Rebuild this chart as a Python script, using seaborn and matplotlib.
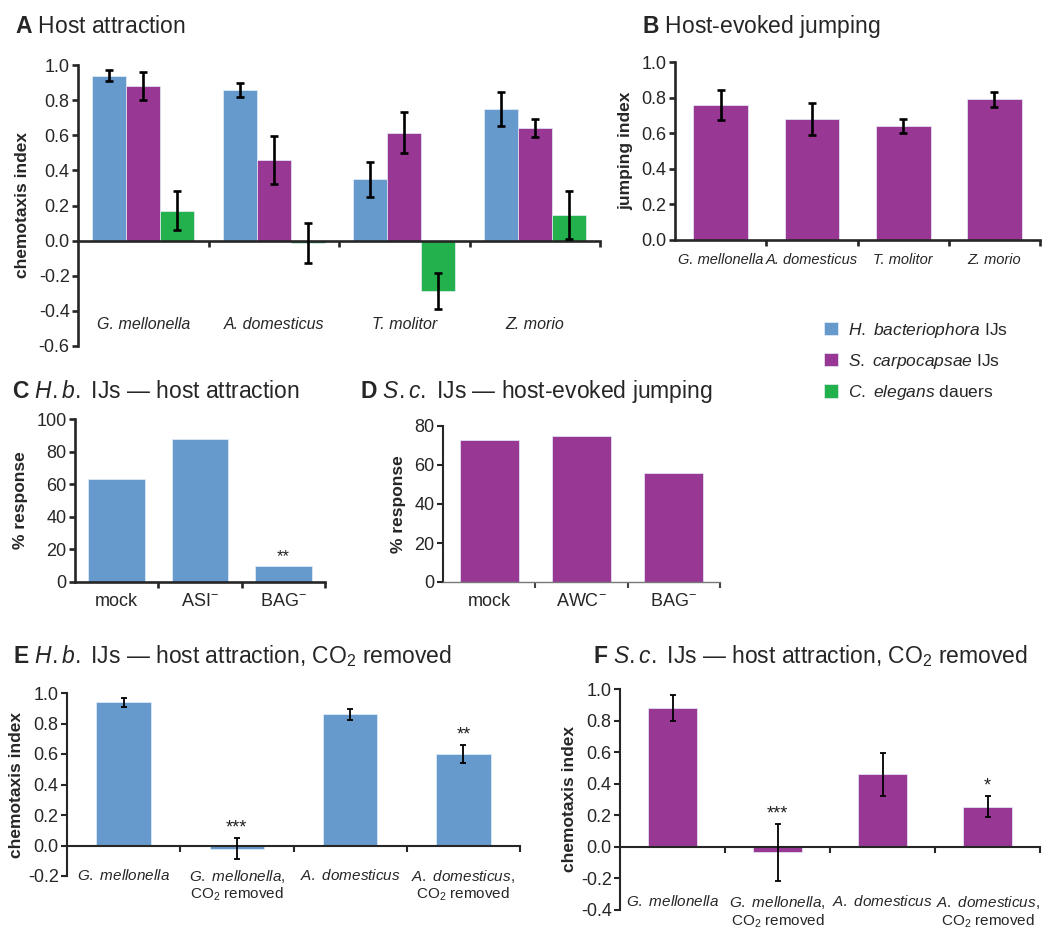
import numpy as np
import pandas as pd
import matplotlib
matplotlib.use('Agg')
import matplotlib.pyplot as plt
import seaborn as sns
from matplotlib.patches import Patch
from matplotlib.ticker import FixedLocator

sns.set_style('ticks')
plt.rcParams['font.family'] = ['Liberation Sans', 'DejaVu Sans']
plt.rcParams['mathtext.fontset'] = 'custom'
plt.rcParams['mathtext.rm'] = 'Liberation Sans'
plt.rcParams['mathtext.it'] = 'Liberation Sans:italic'
plt.rcParams['mathtext.bf'] = 'Liberation Sans:bold'
plt.rcParams['axes.unicode_minus'] = False

BLUE = '#6699cc'
PURPLE = '#993894'
GREEN = '#22b14c'

# ---- data ----
hosts = ['G. mellonella', 'A. domesticus', 'T. molitor', 'Z. morio']
species = ['H. bacteriophora IJs', 'S. carpocapsae IJs', 'C. elegans dauers']
species_labels = [r'$\mathit{H.\ bacteriophora}$ IJs',
                  r'$\mathit{S.\ carpocapsae}$ IJs',
                  r'$\mathit{C.\ elegans}$ dauers']
attr_hb = [0.94, 0.86, 0.35, 0.75]
attr_hb_err = [0.03, 0.04, 0.10, 0.095]
attr_sc = [0.88, 0.46, 0.615, 0.64]
attr_sc_err = [0.08, 0.135, 0.115, 0.05]
attr_ce = [0.17, -0.015, -0.287, 0.145]
attr_ce_err = [0.11, 0.115, 0.10, 0.135]

jump = [0.76, 0.68, 0.64, 0.79]
jump_err = [0.085, 0.09, 0.04, 0.04]

c_strains = ['mock', 'ASI$^{-}$', 'BAG$^{-}$']
c_resp = [63, 88, 10]
c_stars = ['', '', '**']
d_strains = ['mock', 'AWC$^{-}$', 'BAG$^{-}$']
d_resp = [73, 75, 56]

co2_conds = [r'$\mathit{G.\ mellonella}$',
             r'$\mathit{G.\ mellonella,}$' + '\n' + r'CO$_2$ removed',
             r'$\mathit{A.\ domesticus}$',
             r'$\mathit{A.\ domesticus,}$' + '\n' + r'CO$_2$ removed']
e_ci = [0.94, -0.02, 0.86, 0.60]
e_err = [0.03, 0.07, 0.035, 0.06]
e_stars = ['', '***', '', '**']
f_ci = [0.88, -0.035, 0.46, 0.255]
f_err = [0.08, 0.18, 0.135, 0.068]
f_stars = ['', '***', '', '*']

W, H = 1050, 935


def add_axes(fig, left, right, top, bottom):
    return fig.add_axes([left / W, 1 - bottom / H, (right - left) / W, (bottom - top) / H])


def style_axes(ax, n, ylim, yticks, lw, pad, zero_spine=True, ytick_size=13):
    ax.spines[['top', 'right']].set_visible(False)
    ax.spines['left'].set_linewidth(lw)
    ax.spines['bottom'].set_linewidth(lw)
    if zero_spine:
        ax.spines['bottom'].set_position(('data', 0))
    ax.set_xlim(-0.5, n - 0.5)
    ax.set_ylim(*ylim)
    ax.set_yticks(yticks)
    ax.xaxis.set_minor_locator(FixedLocator(np.arange(0.5, n, 1)))
    ax.tick_params(axis='x', which='major', length=0, pad=pad)
    ax.tick_params(axis='x', which='minor', length=4, width=lw, direction='out')
    ax.tick_params(axis='y', length=4, width=lw, labelsize=ytick_size, pad=2)
    ax.set_xlabel('')


def add_err(ax, container, vals, errs, lw, cap):
    xs = [p.get_x() + p.get_width() / 2 for p in container]
    ax.errorbar(xs, vals, yerr=errs, fmt='none', ecolor='black',
                elinewidth=lw, capsize=cap, capthick=lw, zorder=5)


def add_stars(ax, container, tops, stars, fs=13):
    for p, t, s in zip(container, tops, stars):
        if s:
            ax.annotate(s, (p.get_x() + p.get_width() / 2, t), xytext=(0, 1),
                        textcoords='offset points', ha='center', va='bottom',
                        fontsize=fs, color='#222222')


fig = plt.figure(figsize=(W / 100, H / 100), dpi=100)

# ---- A ----
ax = add_axes(fig, 78, 600, 65, 346)
df_a = pd.DataFrame({
    'host': hosts * 3,
    'ci': attr_hb + attr_sc + attr_ce,
    'species': [s for s in species for _ in hosts],
})
sns.barplot(data=df_a, x='host', y='ci', hue='species', order=hosts, hue_order=species,
            palette=[BLUE, PURPLE, GREEN], width=0.78, errorbar=None, legend=False,
            saturation=1, edgecolor='#e6eef8', linewidth=0.5, ax=ax)
for cont, v, e in zip(ax.containers, [attr_hb, attr_sc, attr_ce],
                      [attr_hb_err, attr_sc_err, attr_ce_err]):
    add_err(ax, cont, v, e, 1.9, 3)
style_axes(ax, 4, (-0.6, 1.0), np.round(np.arange(-0.6, 1.01, 0.2), 1), 1.9, 55)
ax.set_yticklabels(['%.1f' % t for t in ax.get_yticks()])
ax.set_xticks(range(4))
ax.set_xticklabels(hosts, fontstyle='italic', fontsize=11.5)
ax.set_ylabel('chemotaxis index', fontsize=12.5, fontweight='bold', labelpad=6)

# ---- B ----
ax = add_axes(fig, 675, 1040, 62, 240)
sns.barplot(x=hosts, y=jump, color=PURPLE, width=0.6, errorbar=None, saturation=1,
            edgecolor='#e6eef8', linewidth=0.5, ax=ax)
add_err(ax, ax.containers[0], jump, jump_err, 1.9, 3)
style_axes(ax, 4, (0, 1.0), np.round(np.arange(0, 1.01, 0.2), 1), 1.9, 9)
ax.set_yticklabels(['%.1f' % t for t in ax.get_yticks()])
ax.set_xticks(range(4))
ax.set_xticklabels(hosts, fontstyle='italic', fontsize=10.5)
ax.set_ylabel('jumping index', fontsize=12.5, fontweight='bold', labelpad=6)

# ---- legend ----
handles = [Patch(facecolor=c, edgecolor='#e6eef8', linewidth=0.5) for c in [BLUE, PURPLE, GREEN]]
fig.legend(handles, species_labels, loc='upper left',
           bbox_to_anchor=(808 / W, 1 - 305 / H), frameon=False, fontsize=12.5,
           handlelength=0.8, handleheight=0.8, handletextpad=0.6, labelspacing=0.7)

# ---- C ----
ax = add_axes(fig, 75, 325, 419, 582)
sns.barplot(x=c_strains, y=c_resp, color=BLUE, width=0.68, errorbar=None, saturation=1,
            edgecolor='#e6eef8', linewidth=0.5, ax=ax)
add_stars(ax, ax.containers[0], c_resp, c_stars, fs=12)
style_axes(ax, 3, (0, 100), range(0, 101, 20), 1.9, 8, zero_spine=False, ytick_size=13)
ax.set_xticks(range(3))
ax.set_xticklabels(c_strains, fontsize=13)
ax.set_ylabel('% response', fontsize=12.5, fontweight='bold', labelpad=6)

# ---- D ----
ax = add_axes(fig, 443, 720, 426, 582)
sns.barplot(x=d_strains, y=d_resp, color=PURPLE, width=0.64, errorbar=None, saturation=1,
            edgecolor='#e6eef8', linewidth=0.5, ax=ax)
style_axes(ax, 3, (0, 80), range(0, 81, 20), 1.5, 8, zero_spine=False, ytick_size=13)
ax.spines['bottom'].set_color('#777777')
ax.spines['bottom'].set_linewidth(1.0)
ax.tick_params(axis='x', which='minor', color='#444444')
ax.set_xticks(range(3))
ax.set_xticklabels(d_strains, fontsize=13)
ax.set_ylabel('% response', fontsize=12.5, fontweight='bold', labelpad=6)

# ---- E ----
ax = add_axes(fig, 67, 520, 693, 876)
sns.barplot(x=list(range(4)), y=e_ci, color=BLUE, width=0.48, errorbar=None, saturation=1,
            edgecolor='#e6eef8', linewidth=0.5, ax=ax)
add_err(ax, ax.containers[0], e_ci, e_err, 1.3, 2)
add_stars(ax, ax.containers[0], [v + e for v, e in zip(e_ci, e_err)], e_stars)
style_axes(ax, 4, (-0.2, 1.0), np.round(np.arange(-0.2, 1.01, 0.2), 1), 1.5, 16)
ax.set_yticklabels(['%.1f' % t for t in ax.get_yticks()])
ax.set_xticks(range(4))
ax.set_xticklabels(co2_conds, fontsize=11, linespacing=1.1)
ax.set_ylabel('chemotaxis index', fontsize=12.5, fontweight='bold', labelpad=3)

# ---- F ----
ax = add_axes(fig, 620, 1040, 689, 910)
sns.barplot(x=list(range(4)), y=f_ci, color=PURPLE, width=0.47, errorbar=None, saturation=1,
            edgecolor='#e6eef8', linewidth=0.5, ax=ax)
add_err(ax, ax.containers[0], f_ci, f_err, 1.3, 2)
add_stars(ax, ax.containers[0], [v + e for v, e in zip(f_ci, f_err)], f_stars)
style_axes(ax, 4, (-0.4, 1.0), np.round(np.arange(-0.4, 1.01, 0.2), 1), 1.5, 34)
ax.set_yticklabels(['%.1f' % t for t in ax.get_yticks()])
ax.set_xticks(range(4))
ax.set_xticklabels(co2_conds, fontsize=11, linespacing=1.1)
ax.set_ylabel('chemotaxis index', fontsize=12.5, fontweight='bold', labelpad=3)

# ---- panel titles ----
titles = [
    (15, 33, r'$\mathbf{A}$ Host attraction'),
    (642, 33, r'$\mathbf{B}$ Host-evoked jumping'),
    (12, 398, r'$\mathbf{C}$ $\mathit{H.b.}$ IJs — host attraction'),
    (360, 398, r'$\mathbf{D}$ $\mathit{S.c.}$ IJs — host-evoked jumping'),
    (13, 663, r'$\mathbf{E}$ $\mathit{H.b.}$ IJs — host attraction, CO$_2$ removed'),
    (593, 663, r'$\mathbf{F}$ $\mathit{S.c.}$ IJs — host attraction, CO$_2$ removed'),
]
for x, y, t in titles:
    fig.text(x / W, 1 - y / H, t, fontsize=16.5, va='baseline', ha='left')

fig.savefig('out.png', dpi=100)
